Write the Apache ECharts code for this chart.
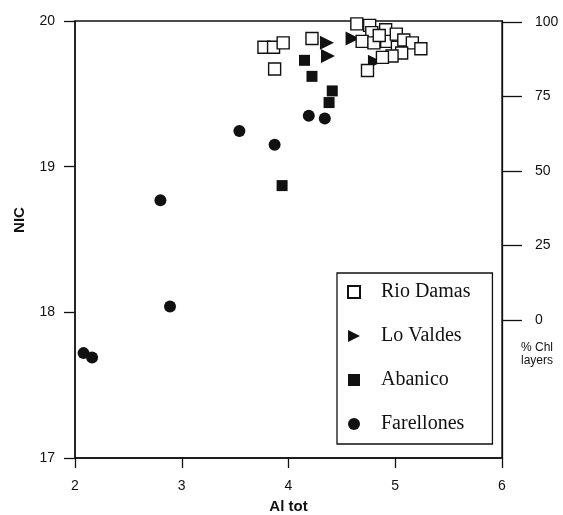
<!DOCTYPE html>
<html>
<head>
<meta charset="utf-8">
<style>
  html, body { margin: 0; padding: 0; background: #fff; }
  #chart { width: 563px; height: 515px; }
</style>
<script src="https://cdn.jsdelivr.net/npm/echarts@6/dist/echarts.min.js"></script>
</head>
<body>
<div id="chart"></div>
<script>
// Al tot vs NIC, by formation
const rioDamasAl  = [3.77, 3.86, 3.95, 3.87, 4.22, 4.64, 4.76, 4.78, 4.69, 4.80, 4.91, 4.92, 5.01, 5.02, 5.08, 5.16, 5.24, 5.06, 4.97, 4.88, 4.74, 4.85];
const rioDamasNic = [19.82, 19.82, 19.85, 19.67, 19.88, 19.98, 19.97, 19.92, 19.86, 19.85, 19.94, 19.86, 19.91, 19.82, 19.87, 19.85, 19.81, 19.78, 19.76, 19.75, 19.66, 19.90];

const loValdesAl  = [4.36, 4.37, 4.60, 4.81];
const loValdesNic = [19.85, 19.76, 19.88, 19.72];

const abanicoAl  = [4.15, 4.22, 4.41, 4.38, 3.94];
const abanicoNic = [19.73, 19.62, 19.52, 19.44, 18.87];

const farellonesAl  = [2.08, 2.16, 2.80, 2.89, 3.54, 3.87, 4.19, 4.34];
const farellonesNic = [17.72, 17.69, 18.77, 18.04, 19.245, 19.15, 19.35, 19.33];

// Right-hand scale (% chlorite layers)
const chlTicks = [0, 25, 50, 75, 100];

const names = ['Rio Damas', 'Lo Valdes', 'Abanico', 'Farellones'];

function pairs(xs, ys) { return xs.map((x, i) => [x, ys[i]]); }

const ink = '#111';
const axisText = { color: ink, fontFamily: 'Liberation Sans, Arial, sans-serif', fontSize: 14 };

const chart = echarts.init(document.getElementById('chart'), null, { renderer: 'canvas' });

chart.setOption({
  animation: false,
  backgroundColor: '#fff',
  grid: {
    left: 75, right: 61, top: 21, bottom: 57,
    containLabel: false, outerBoundsMode: 'none',
    show: true, borderColor: ink, borderWidth: 1.3
  },
  xAxis: {
    type: 'value', min: 2, max: 6, interval: 1,
    name: 'Al tot', nameLocation: 'middle', nameGap: 41,
    nameTextStyle: { color: ink, fontFamily: 'Liberation Sans, Arial, sans-serif', fontSize: 15, fontWeight: 'bold' },
    axisLine: { onZero: false, lineStyle: { color: ink, width: 1.5 } },
    axisTick: { length: 10, lineStyle: { color: ink, width: 1.3 } },
    axisLabel: Object.assign({ margin: 21 }, axisText),
    splitLine: { show: false }
  },
  yAxis: [
    {
      type: 'value', min: 17, max: 20, interval: 1,
      axisLine: { onZero: false, lineStyle: { color: ink, width: 1.5 } },
      axisTick: { length: 11, lineStyle: { color: ink, width: 1.3 } },
      axisLabel: Object.assign({ margin: 20 }, axisText),
      splitLine: { show: false }
    },
    {
      type: 'value', position: 'right', min: -46.3, max: 100.3,
      alignTicks: false,
      axisLine: { show: true, onZero: false, lineStyle: { color: ink, width: 1.3 } },
      axisTick: { show: true, length: 20, customValues: chlTicks, lineStyle: { color: ink, width: 1.3 } },
      axisLabel: Object.assign({ margin: 33, customValues: chlTicks }, axisText),
      splitLine: { show: false }
    }
  ],
  legend: {
    data: names,
    orient: 'vertical',
    left: 337, top: 273,
    padding: [9, 22, 10, 10],
    itemWidth: 12, itemHeight: 12,
    itemGap: 24,
    borderColor: ink, borderWidth: 1.3,
    backgroundColor: '#fff',
    textStyle: { color: ink, fontFamily: 'Liberation Serif, Times New Roman, serif', fontSize: 20, lineHeight: 20, padding: [0, 0, 0, 16] }
  },
  graphic: [
    {
      // left axis title, set a little above the middle of the axis
      type: 'text', x: 20, y: 220, rotation: Math.PI / 2,
      style: { text: 'NIC', fill: ink, font: 'bold 15px Liberation Sans, Arial, sans-serif', align: 'center', verticalAlign: 'middle' }
    },
    {
      type: 'text', left: 521, top: 341,
      style: { text: '% Chl\nlayers', fill: ink, font: '12px Liberation Sans, Arial, sans-serif', lineHeight: 13 }
    }
  ],
  series: [
    {
      name: 'Lo Valdes', type: 'scatter', data: pairs(loValdesAl, loValdesNic),
      symbol: 'path://M0,0 L12,6 L0,12 Z', symbolSize: 14,
      itemStyle: { color: ink, opacity: 1 }, clip: false
    },
    {
      name: 'Abanico', type: 'scatter', data: pairs(abanicoAl, abanicoNic),
      symbol: 'rect', symbolSize: 11,
      itemStyle: { color: ink, opacity: 1 }, clip: false
    },
    {
      name: 'Farellones', type: 'scatter', data: pairs(farellonesAl, farellonesNic),
      symbol: 'circle', symbolSize: 12,
      itemStyle: { color: ink, opacity: 1 }, clip: false
    },
    {
      name: 'Rio Damas', type: 'scatter', data: pairs(rioDamasAl, rioDamasNic),
      symbol: 'rect', symbolSize: 12,
      itemStyle: { color: '#fff', borderColor: ink, borderWidth: 1.4, opacity: 1 }, clip: false
    }
  ]
});
</script>
</body>
</html>
